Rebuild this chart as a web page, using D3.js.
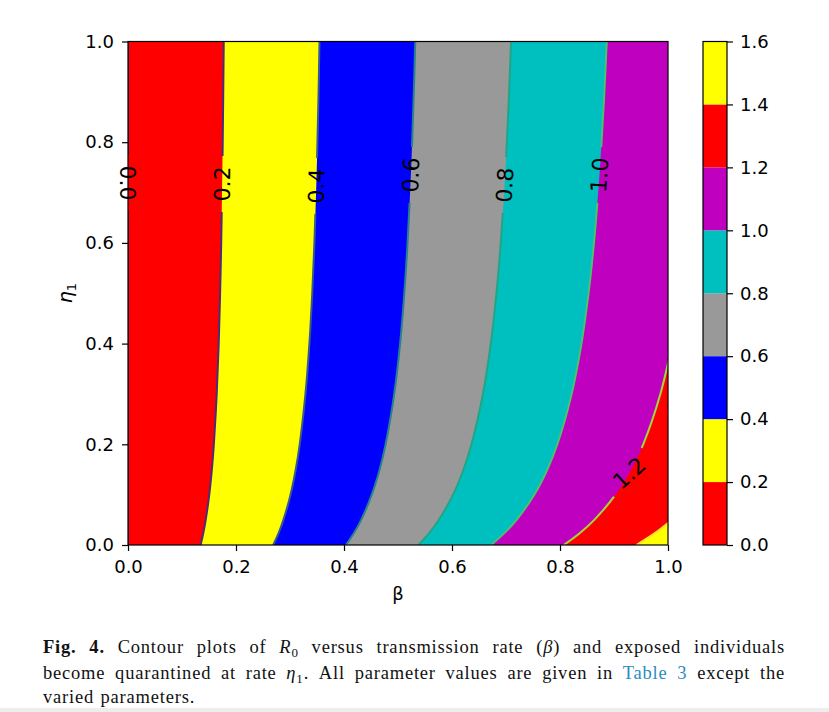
<!DOCTYPE html>
<html><head><meta charset="utf-8">
<script src="https://cdn.jsdelivr.net/npm/d3@7"></script>
<style>body{margin:0;background:#fff} svg{display:block}</style>
</head><body>
<svg id="chart" width="829" height="712"></svg>
<script>
// ---- data ----
const etaSamples = [0, 0.025, 0.05, 0.1, 0.15, 0.2, 0.3, 0.4, 0.5, 0.6, 0.7, 0.8, 0.9, 1.0];
// beta position of each contour level at the eta samples
const contour00 = [0, 0, 0, 0, 0, 0, 0, 0, 0, 0, 0, 0, 0, 0];
const contour02 = [0.1345, 0.1397, 0.1439, 0.1505, 0.1553, 0.1590, 0.1643, 0.1680, 0.1706, 0.1726, 0.1741, 0.1754, 0.1764, 0.1773];
const contour04 = [0.2690, 0.2794, 0.2878, 0.3010, 0.3106, 0.3180, 0.3286, 0.3359, 0.3412, 0.3452, 0.3483, 0.3508, 0.3529, 0.3546];
const contour06 = [0.4035, 0.4190, 0.4318, 0.4514, 0.4660, 0.4771, 0.4930, 0.5039, 0.5117, 0.5177, 0.5224, 0.5262, 0.5293, 0.5320];
const contour08 = [0.5380, 0.5587, 0.5757, 0.6019, 0.6213, 0.6361, 0.6573, 0.6718, 0.6823, 0.6903, 0.6966, 0.7016, 0.7058, 0.7093];
const contour10 = [0.6725, 0.6984, 0.7196, 0.7524, 0.7766, 0.7951, 0.8216, 0.8398, 0.8529, 0.8629, 0.8707, 0.8770, 0.8822, 0.8866];
const contour12 = [0.8070, 0.8381, 0.8635, 0.9029, 0.9319, 0.9541, 0.9859, 1.0078];
const contour14 = [0.9415, 0.9778, 1.0074];
const contourLevels = ['0.0', '0.2', '0.4', '0.6', '0.8', '1.0', '1.2', '1.4'];
const bandLevels = [0, 0.2, 0.4, 0.6, 0.8, 1.0, 1.2, 1.4, 1.6];
const xTicks = [0, 0.2, 0.4, 0.6, 0.8, 1.0];
const yTicks = [0, 0.2, 0.4, 0.6, 0.8, 1.0];
const cbTicks = [0, 0.2, 0.4, 0.6, 0.8, 1.0, 1.2, 1.4, 1.6];

// ---- styles ----
const bandColors = ['#ff0000', '#ffff00', '#0000ff', '#999999', '#00bfbf', '#bf00bf', '#ff0000', '#ffff00'];
const lineColors = ['#440154', '#472d7b', '#375a8c', '#26828e', '#21a585', '#4cc26c', '#a0da39', '#fde725'];
const labelEta = [0.719, 0.717, 0.713, 0.735, 0.715, 0.735, 0.143];
const labelRot = [90, null, null, null, null, null, -42];

const svg = d3.select('#chart');
const M = {l: 128, r: 668, t: 41.5, b: 545};
const x = d3.scaleLinear().domain([0, 1]).range([M.l, M.r]);
const y = d3.scaleLinear().domain([0, 1]).range([M.b, M.t]);
const sans = '"DejaVu Sans", sans-serif';

svg.append('rect').attr('width', 829).attr('height', 712).attr('fill', '#fff');
svg.append('rect').attr('x', 0).attr('y', 708).attr('width', 829).attr('height', 4).attr('fill', '#ededed');
const defs = svg.append('defs');
defs.append('clipPath').attr('id', 'plotClip').append('rect')
  .attr('x', M.l).attr('y', M.t).attr('width', M.r - M.l).attr('height', M.b - M.t);

const plot = svg.append('g').attr('clip-path', 'url(#plotClip)');
plot.append('rect').attr('x', M.l).attr('y', M.t).attr('width', M.r - M.l).attr('height', M.b - M.t)
  .attr('fill', bandColors[0]);

const boundaries = [contour00, contour02, contour04, contour06, contour08, contour10, contour12, contour14];
const curve = d3.curveCatmullRom.alpha(0.5);
const toPts = arr => arr.map((b, j) => ({b, e: etaSamples[j]}));

boundaries.forEach((arr, i) => {
  if (i === 0) return;
  const area = d3.area().curve(curve).y(d => y(d.e)).x0(d => x(d.b)).x1(x(1) + 6);
  plot.append('path').attr('d', area(toPts(arr))).attr('fill', bandColors[i]);
});

function betaAt(arr, eta) {
  for (let j = 0; j < arr.length - 1; j++) {
    const e0 = etaSamples[j], e1 = etaSamples[j + 1];
    if (eta >= e0 && eta <= e1) return arr[j] + (arr[j + 1] - arr[j]) * (eta - e0) / (e1 - e0);
  }
  return arr[arr.length - 1];
}

const line = d3.line().curve(curve).x(d => x(d.b)).y(d => y(d.e));
const labelsG = svg.append('g');
boundaries.forEach((arr, i) => {
  const le = labelEta[i];
  let maskId = null;
  if (le !== undefined) {
    const cx = x(betaAt(arr, le)), cyy = y(le);
    const pA = [x(betaAt(arr, Math.max(0, le - 0.04))), y(Math.max(0, le - 0.04))];
    const pB = [x(betaAt(arr, le + 0.04)), y(le + 0.04)];
    const ang = Math.atan2(pB[1] - pA[1], pB[0] - pA[0]) * 180 / Math.PI;
    maskId = 'm' + i;
    const mk = defs.append('mask').attr('id', maskId).attr('maskUnits', 'userSpaceOnUse')
      .attr('x', 0).attr('y', 0).attr('width', 829).attr('height', 712);
    mk.append('rect').attr('x', 0).attr('y', 0).attr('width', 829).attr('height', 712).attr('fill', '#fff');
    mk.append('rect').attr('x', -28).attr('y', -12).attr('width', 56).attr('height', 24).attr('fill', '#000')
      .attr('transform', `translate(${cx},${cyy}) rotate(${ang})`);
    const rot = labelRot[i] !== null ? labelRot[i] : ang;
    labelsG.append('text').attr('transform', `translate(${cx},${cyy}) rotate(${rot})`)
      .attr('text-anchor', 'middle').attr('dy', '0.36em')
      .attr('font-family', sans).attr('font-size', 22).attr('fill', '#000')
      .text(contourLevels[i]);
  }
  const p = plot.append('path').attr('d', line(toPts(arr))).attr('fill', 'none')
    .attr('stroke', lineColors[i]).attr('stroke-width', 2);
  if (maskId) p.attr('mask', `url(#${maskId})`);
});
labelsG.raise();

// frame
svg.append('rect').attr('x', M.l).attr('y', M.t).attr('width', M.r - M.l).attr('height', M.b - M.t)
  .attr('fill', 'none').attr('stroke', '#000').attr('stroke-width', 1.2);

const fmt = d3.format('.1f');
function styleAxis(g) {
  g.select('.domain').remove();
  g.selectAll('.tick line').attr('stroke', '#000').attr('stroke-width', 1.2);
  g.selectAll('.tick text').attr('font-family', sans).attr('font-size', 18).attr('fill', '#000');
}
svg.append('g').attr('transform', `translate(0,${M.b})`)
  .call(d3.axisBottom(x).tickValues(xTicks).tickFormat(fmt).tickSize(6).tickPadding(9)).call(styleAxis);
svg.append('g').attr('transform', `translate(${M.l},0)`)
  .call(d3.axisLeft(y).tickValues(yTicks).tickFormat(fmt).tickSize(6).tickPadding(8)).call(styleAxis);

// axis labels
svg.append('text').attr('x', x(0.5)).attr('y', 600).attr('text-anchor', 'middle')
  .attr('font-family', sans).attr('font-size', 18).text('β');
const yl = svg.append('text').attr('transform', 'translate(72,293) rotate(-90)').attr('text-anchor', 'middle')
  .attr('font-family', sans).attr('font-size', 19);
yl.append('tspan').attr('font-style', 'italic').text('η');
yl.append('tspan').attr('font-size', 13).attr('dy', 4).text('1');

// colorbar
const cbX = 703, cbW = 24;
const cbY = d3.scaleLinear().domain([0, 1.6]).range([M.b, M.t]);
for (let i = 0; i < bandLevels.length - 1; i++) {
  svg.append('rect').attr('x', cbX).attr('width', cbW)
    .attr('y', cbY(bandLevels[i + 1])).attr('height', cbY(bandLevels[i]) - cbY(bandLevels[i + 1]))
    .attr('fill', bandColors[i]);
}
svg.append('rect').attr('x', cbX).attr('y', M.t).attr('width', cbW).attr('height', M.b - M.t)
  .attr('fill', 'none').attr('stroke', '#000').attr('stroke-width', 1.2);
svg.append('g').attr('transform', `translate(${cbX + cbW},0)`)
  .call(d3.axisRight(cbY).tickValues(cbTicks).tickFormat(fmt).tickSize(6).tickPadding(7)).call(styleAxis);

// caption
const serif = '"Liberation Serif", "Times New Roman", serif';
const capSize = 18.5, subSize = 13, ls = 0.8;
const capLines = [
  {y: 653, justify: true, words: [
    [{t: 'Fig.', b: 1}], [{t: '4.', b: 1}], [{t: 'Contour'}], [{t: 'plots'}], [{t: 'of'}],
    [{t: 'R', i: 1}, {t: '0', sub: 1}], [{t: 'versus'}], [{t: 'transmission'}], [{t: 'rate'}],
    [{t: '('}, {t: 'β', i: 1}, {t: ')'}], [{t: 'and'}], [{t: 'exposed'}], [{t: 'individuals'}]]},
  {y: 679, justify: true, words: [
    [{t: 'become'}], [{t: 'quarantined'}], [{t: 'at'}], [{t: 'rate'}],
    [{t: 'η', i: 1}, {t: '1', sub: 1}, {t: '.'}], [{t: 'All'}], [{t: 'parameter'}], [{t: 'values'}],
    [{t: 'are'}], [{t: 'given'}], [{t: 'in'}], [{t: 'Table', c: '#2a8dbf'}], [{t: '3', c: '#2a8dbf'}],
    [{t: 'except'}], [{t: 'the'}]]},
  {y: 703, justify: false, words: [[{t: 'varied'}], [{t: 'parameters.'}]]}
];
const capL = 43, capR = 785;
capLines.forEach(ln => {
  const nodes = ln.words.map(w => {
    const t = svg.append('text').attr('y', ln.y).attr('font-family', serif).attr('font-size', capSize)
      .attr('letter-spacing', ls).attr('fill', '#111');
    let inSub = false;
    w.forEach(s => {
      const ts = t.append('tspan').text(s.t);
      if (s.b) ts.attr('font-weight', 'bold');
      if (s.i) ts.attr('font-style', 'italic');
      if (s.c) ts.attr('fill', s.c);
      if (s.sub) { ts.attr('font-size', subSize).attr('dy', 4); inSub = true; }
      else if (inSub) { ts.attr('dy', -4); inSub = false; }
    });
    return t;
  });
  const widths = nodes.map(n => n.node().getComputedTextLength());
  const total = d3.sum(widths);
  const gap = ln.justify ? (capR - capL - total) / (nodes.length - 1) : 6.5;
  let cx = capL;
  nodes.forEach((n, k) => { n.attr('x', cx); cx += widths[k] + gap; });
});
</script>
</body></html>
